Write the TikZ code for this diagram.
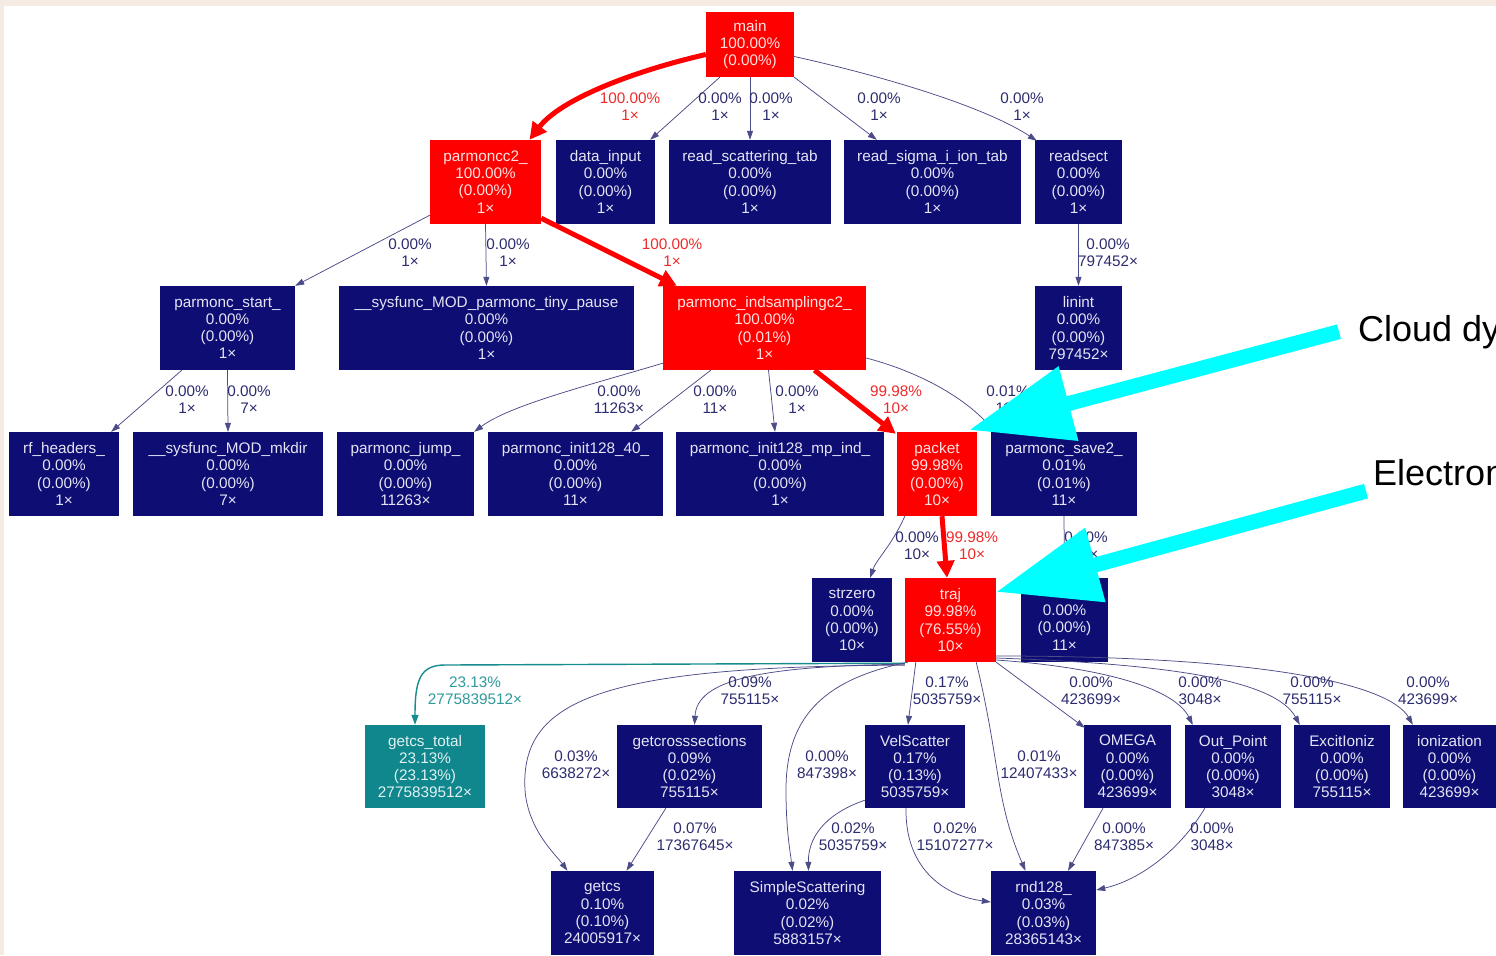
\documentclass[tikz,border=0pt]{standalone}
\usepackage{fontspec}
\setmainfont{Liberation Sans}
\usetikzlibrary{arrows.meta,calc}
\definecolor{bgbeige}{HTML}{F5EBE3}
\definecolor{navyfill}{HTML}{0D0D73}
\definecolor{navytext}{HTML}{E4E4F4}
\definecolor{hotfill}{HTML}{FF0000}
\definecolor{hottext}{HTML}{FFE2E2}
\definecolor{tealfill}{HTML}{0F878C}
\definecolor{tealtext}{HTML}{E2F2F2}
\definecolor{edgenavy}{HTML}{4C4C88}
\definecolor{labnavy}{HTML}{2C2C70}
\definecolor{labred}{HTML}{EE2A2A}
\definecolor{edgeteal}{HTML}{178C8F}
\definecolor{labteal}{HTML}{2F9A9C}
\definecolor{annocyan}{HTML}{00FFFF}
\newcommand\boxfont{\fontsize{15.3bp}{17.3bp}\selectfont}
\newcommand\edgelabfont{\fontsize{15.3bp}{17bp}\selectfont}
\newcommand\annofont{\fontsize{36bp}{40bp}\selectfont}
\tikzset{
 fnbox/.style={rectangle, inner sep=0pt, align=center, font=\boxfont},
 navybox/.style={fnbox, fill=navyfill, text=navytext},
 hotbox/.style={fnbox, fill=hotfill, text=hottext},
 tealbox/.style={fnbox, fill=tealfill, text=tealtext},
 calledge/.style={draw=edgenavy, line width=0.75bp, -{Triangle[length=9bp,width=6bp]}},
 hotedge/.style={draw=hotfill, line width=5bp, -{Triangle[length=17bp,width=17bp]}},
 tealedge/.style={draw=edgeteal, line width=1.4bp, -{Triangle[length=10bp,width=7bp]}},
 elab/.style={font=\edgelabfont, align=center, text=labnavy, inner sep=0pt},
 hotlab/.style={elab, text=labred},
 teallab/.style={elab, text=labteal},
 annoarrow/.style={draw=annocyan, line width=15bp, -{Triangle[length=103bp,width=73bp]}},
 annotext/.style={font=\annofont, text=black, anchor=base west, inner sep=0pt},
}
\newcommand\callbox[7]{\node[#1, minimum width={(#5-#3)*1bp}, minimum height={(#6-#4)*1bp}] (#2) at ({(#3+#5)/2},{(#4+#6)/2}) {#7};}
\begin{document}
\begin{tikzpicture}[x=1bp,y=-1bp]
\clip (0,0) rectangle (1496,955);
\fill[bgbeige] (0,0) rectangle (1496,955);
\fill[white] (4,6) rectangle (1496,955);
% nodes
\callbox{hotbox}{main}{706}{12}{794}{77}{main\\100.00\%\\(0.00\%)}
\callbox{hotbox}{parmoncc2}{430}{140}{541}{224}{parmoncc2\_\\100.00\%\\(0.00\%)\\1×}
\callbox{navybox}{datainput}{556}{140}{655}{224}{data\_input\\0.00\%\\(0.00\%)\\1×}
\callbox{navybox}{readscat}{669}{140}{831}{224}{read\_scattering\_tab\\0.00\%\\(0.00\%)\\1×}
\callbox{navybox}{readsigma}{844}{140}{1021}{224}{read\_sigma\_i\_ion\_tab\\0.00\%\\(0.00\%)\\1×}
\callbox{navybox}{readsect}{1035}{140}{1122}{224}{readsect\\0.00\%\\(0.00\%)\\1×}
\callbox{navybox}{pstart}{160}{286}{295}{370}{parmonc\_start\_\\0.00\%\\(0.00\%)\\1×}
\callbox{navybox}{tinypause}{339}{286}{634}{370}{\_\_sysfunc\_MOD\_parmonc\_tiny\_pause\\0.00\%\\(0.00\%)\\1×}
\callbox{hotbox}{indsamp}{663}{286}{866}{370}{parmonc\_indsamplingc2\_\\100.00\%\\(0.01\%)\\1×}
\callbox{navybox}{linint}{1035}{286}{1122}{370}{linint\\0.00\%\\(0.00\%)\\797452×}
\callbox{navybox}{rfheaders}{9}{432}{119}{516}{rf\_headers\_\\0.00\%\\(0.00\%)\\1×}
\callbox{navybox}{mkdir}{133}{432}{323}{516}{\_\_sysfunc\_MOD\_mkdir\\0.00\%\\(0.00\%)\\7×}
\callbox{navybox}{pjump}{337}{432}{474}{516}{parmonc\_jump\_\\0.00\%\\(0.00\%)\\11263×}
\callbox{navybox}{init40}{488}{432}{663}{516}{parmonc\_init128\_40\_\\0.00\%\\(0.00\%)\\11×}
\callbox{navybox}{initmp}{676}{432}{884}{516}{parmonc\_init128\_mp\_ind\_\\0.00\%\\(0.00\%)\\1×}
\callbox{hotbox}{packet}{897}{432}{977}{516}{packet\\99.98\%\\(0.00\%)\\10×}
\callbox{navybox}{save2}{991}{432}{1137}{516}{parmonc\_save2\_\\0.01\%\\(0.01\%)\\11×}
\callbox{navybox}{strzero}{812}{578}{892}{662}{strzero\\0.00\%\\(0.00\%)\\10×}
\callbox{hotbox}{traj}{905}{578}{996}{662}{traj\\99.98\%\\(76.55\%)\\10×}
\callbox{navybox}{hidden}{1021}{578}{1108}{662}{\phantom{ma}\\0.00\%\\(0.00\%)\\11×}
\callbox{tealbox}{getcstotal}{365}{725}{485}{808}{getcs\_total\\23.13\%\\(23.13\%)\\2775839512×}
\callbox{navybox}{getcross}{617}{725}{762}{808}{getcrosssections\\0.09\%\\(0.02\%)\\755115×}
\callbox{navybox}{velscatter}{865}{725}{965}{808}{VelScatter\\0.17\%\\(0.13\%)\\5035759×}
\callbox{navybox}{omega}{1084}{725}{1171}{808}{OMEGA\\0.00\%\\(0.00\%)\\423699×}
\callbox{navybox}{outpoint}{1185}{725}{1281}{808}{Out\_Point\\0.00\%\\(0.00\%)\\3048×}
\callbox{navybox}{excit}{1294}{725}{1390}{808}{ExcitIoniz\\0.00\%\\(0.00\%)\\755115×}
\callbox{navybox}{ionization}{1403}{725}{1496}{808}{ionization\\0.00\%\\(0.00\%)\\423699×}
\callbox{navybox}{getcs}{551}{871}{654}{955}{getcs\\0.10\%\\(0.10\%)\\24005917×}
\callbox{navybox}{simple}{734}{871}{881}{955}{SimpleScattering\\0.02\%\\(0.02\%)\\5883157×}
\callbox{navybox}{rnd}{991}{871}{1096}{955}{rnd128\_\\0.03\%\\(0.03\%)\\28365143×}
% edges
\draw[hotedge] ($(main.west)+(0,10)$) .. controls (630,72) and (560,100) .. ($(parmoncc2.north)+(44,0)$);
\draw[calledge] ($(main.south west)+(14,0)$) -- ($(datainput.north east)+(-5,0)$);
\draw[calledge] (main.south) -- (readscat.north);
\draw[calledge] (main.south east) -- ($(readsigma.north west)+(33,0)$);
\draw[calledge] ($(main.east)+(0,12)$) .. controls (900,80) and (990,110) .. ($(readsect.north west)+(2,1)$);
\draw[calledge] ($(parmoncc2.south west)+(0,-9)$) -- (pstart.north east);
\draw[calledge] (parmoncc2.south) -- (tinypause.north);
\draw[hotedge] ($(parmoncc2.south east)+(0,-6)$) -- ($(indsamp.north west)+(14,0)$);
\draw[calledge] (readsect.south) -- (linint.north);
\draw[calledge] ($(pstart.south west)+(22,0)$) -- ($(rfheaders.north east)+(-8,0)$);
\draw[calledge] (pstart.south) -- (mkdir.north);
\draw[calledge] ($(indsamp.south west)+(0,-7)$) .. controls (590,385) and (510,405) .. (pjump.north east);
\draw[calledge] ($(indsamp.south west)+(48,0)$) -- ($(init40.north east)+(-32,0)$);
\draw[calledge] ($(indsamp.south)+(4,0)$) -- ($(initmp.north)+(-5,0)$);
\draw[hotedge] ($(indsamp.south)+(50,0)$) -- ($(packet.north west)+(-1,2)$);
\draw[calledge] ($(indsamp.east)+(0,30)$) .. controls (920,372) and (965,398) .. ($(save2.north west)+(4,0)$);
\draw[calledge] ($(packet.south west)+(8,0)$) .. controls (892,545) and (876,560) .. ($(strzero.north east)+(-22,0)$);
\draw[hotedge] ($(packet.south)+(5,0)$) -- ($(traj.north)+(-3.5,0)$);
\draw[calledge] (save2.south) -- (hidden.north);
\draw[tealedge] ($(traj.south west)+(0,1)$) -- (445,665) .. controls (420,665) and (415,680) .. ($(getcstotal.north)+(-10,0)$);
\draw[calledge] ($(traj.south west)+(0,2)$) .. controls (760,666) and (697,680) .. ($(getcross.north)+(5,0)$);
\draw[calledge] ($(traj.south west)+(0,3)$) .. controls (600,666) and (520,700) .. (525,790) .. controls (528,830) and (556,855) .. ($(getcs.north)+(-35,0)$);
\draw[calledge] ($(traj.south west)+(3,0)$) .. controls (820,680) and (786,720) .. (786,790) .. controls (786,830) and (790,850) .. ($(simple.north)+(-15,0)$);
\draw[calledge] ($(traj.south west)+(11,0)$) .. controls (912,690) .. ($(velscatter.north)+(-7,0)$);
\draw[calledge] ($(traj.south east)+(-20,0)$) .. controls (1000,760) and (995,800) .. ($(rnd.north)+(-18,0)$);
\draw[calledge] (traj.south east) -- ($(omega.north west)+(1,3)$);
\draw[calledge] ($(traj.east)+(0,40)$) .. controls (1110,668) and (1175,690) .. ($(outpoint.north west)+(8,0)$);
\draw[calledge] ($(traj.east)+(0,38)$) .. controls (1170,664) and (1275,680) .. ($(excit.north west)+(6,0)$);
\draw[calledge] ($(traj.east)+(0,36)$) .. controls (1270,656) and (1390,685) .. ($(ionization.north west)+(10,0)$);
\draw[calledge] ($(getcross.south west)+(49,0)$) -- ($(getcs.north)+(24,0)$);
\draw[calledge] ($(velscatter.south west)+(0,-8)$) .. controls (822,815) and (808,840) .. ($(simple.north)+(1,0)$);
\draw[calledge] ($(velscatter.south)+(-9,0)$) .. controls (905,865) and (940,895) .. ($(rnd.west)+(0,-11)$);
\draw[calledge] ($(omega.south)+(-24.5,0)$) -- ($(rnd.north)+(24.5,0)$);
\draw[calledge] ($(outpoint.south west)+(20,0)$) .. controls (1180,850) and (1140,880) .. ($(rnd.east)+(0,-23)$);
% edge labels
\node[hotlab] (la) at (630,107) {100.00\%\\1×};
\node[elab] (lb) at (720,107) {0.00\%\\1×};
\node[elab] (lc) at (771,107) {0.00\%\\1×};
\node[elab] (ld) at (879,107) {0.00\%\\1×};
\node[elab] (le) at (1022,107) {0.00\%\\1×};
\node[elab] (lf) at (410,253) {0.00\%\\1×};
\node[elab] (lg) at (508,253) {0.00\%\\1×};
\node[hotlab] (lh) at (672,253) {100.00\%\\1×};
\node[elab] (li) at (1108,253) {0.00\%\\797452×};
\node[elab] (lj) at (187,400) {0.00\%\\1×};
\node[elab] (lk) at (249,400) {0.00\%\\7×};
\node[elab] (ll) at (619,400) {0.00\%\\11263×};
\node[elab] (lm) at (715,400) {0.00\%\\11×};
\node[elab] (ln) at (797,400) {0.00\%\\1×};
\node[hotlab] (lo) at (896,400) {99.98\%\\10×};
\node[elab] (lp) at (1008,400) {0.01\%\\11×};
\node[elab] (lq) at (917,546) {0.00\%\\10×};
\node[hotlab] (lr) at (972,546) {99.98\%\\10×};
\node[elab] (ls) at (1086,546) {0.00\%\\11×};
\node[teallab] (lt) at (475,691) {23.13\%\\2775839512×};
\node[elab] (lu) at (750,691) {0.09\%\\755115×};
\node[elab] (lx) at (947,691) {0.17\%\\5035759×};
\node[elab] (lz) at (1091,691) {0.00\%\\423699×};
\node[elab] (laa) at (1200,691) {0.00\%\\3048×};
\node[elab] (lbb) at (1312,691) {0.00\%\\755115×};
\node[elab] (lcc) at (1428,691) {0.00\%\\423699×};
\node[elab] (lv) at (576,765) {0.03\%\\6638272×};
\node[elab] (lw) at (827,765) {0.00\%\\847398×};
\node[elab] (ly) at (1039,765) {0.01\%\\12407433×};
\node[elab] (ldd) at (695,837) {0.07\%\\17367645×};
\node[elab] (lee) at (853,837) {0.02\%\\5035759×};
\node[elab] (lff) at (955,837) {0.02\%\\15107277×};
\node[elab] (lgg) at (1124,837) {0.00\%\\847385×};
\node[elab] (lhh) at (1212,837) {0.00\%\\3048×};
% annotations
\node[annotext] (cloud) at (1358,341) {Cloud dy};
\node[annotext] (electron) at (1373,485) {Electron};
\coordinate (cloudtip) at (969,430);
\coordinate (electrontip) at (996,592);
\draw[annoarrow] ($(cloud.west)+(-19,0)$) -- (cloudtip);
\draw[annoarrow] ($(electron.west)+(-7,19)$) -- (electrontip);
\end{tikzpicture}
\end{document}
